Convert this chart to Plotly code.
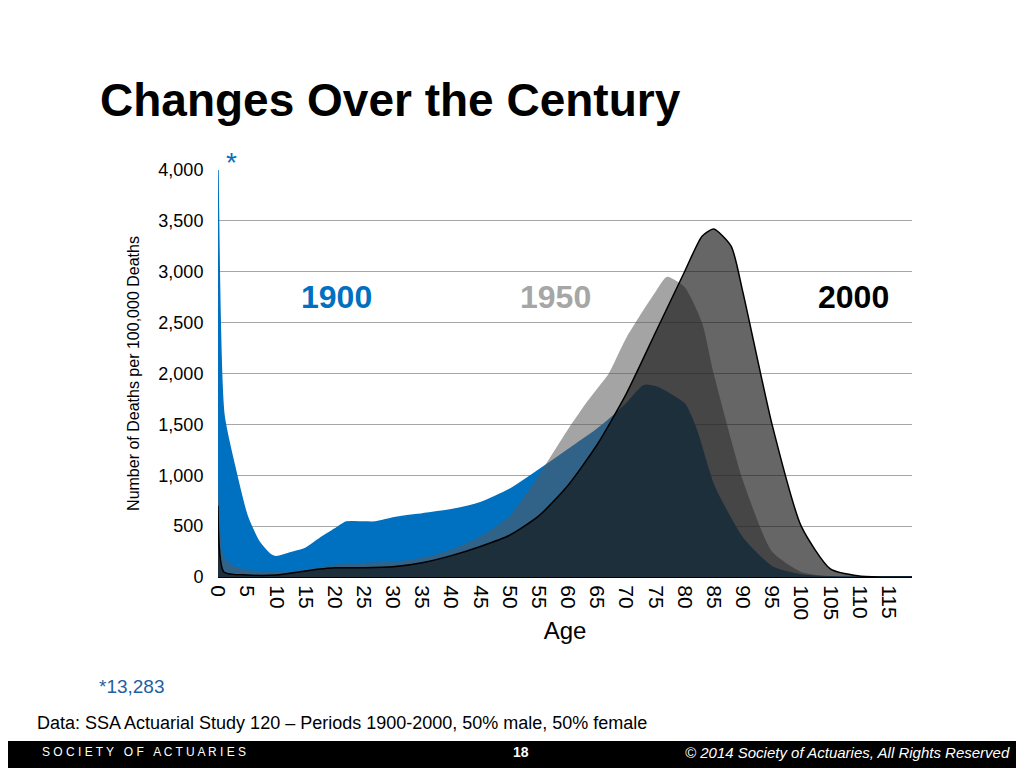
import plotly.graph_objects as go

ages_1900 = [0, 1, 3, 5, 7, 9, 10, 12, 15, 18, 20, 22, 25, 27, 30, 35, 40, 45, 50, 55, 60, 65, 70, 73, 75, 78, 80, 82, 85, 90, 95, 100, 105, 110, 119]
deaths_1900 = [4000, 1600, 1050, 600, 350, 220, 200, 230, 280, 400, 470, 540, 540, 540, 580, 620, 660, 730, 860, 1050, 1250, 1450, 1700, 1880, 1870, 1780, 1700, 1450, 900, 380, 100, 20, 2, 0, 0]

ages_1950 = [0, 1, 3, 5, 10, 15, 20, 25, 30, 35, 40, 45, 50, 55, 60, 63, 65, 67, 70, 75, 77, 80, 83, 85, 90, 95, 100, 105, 110, 119]
deaths_1950 = [3500, 200, 100, 70, 50, 70, 120, 140, 150, 190, 270, 400, 600, 1000, 1450, 1700, 1850, 2000, 2350, 2800, 2950, 2850, 2500, 2000, 950, 250, 50, 5, 0, 0]

ages_2000 = [0, 1, 5, 10, 15, 20, 25, 30, 35, 40, 45, 50, 55, 60, 65, 70, 75, 80, 83, 85, 88, 90, 95, 100, 105, 110, 115, 119]
deaths_2000 = [700, 50, 20, 20, 60, 90, 90, 100, 140, 210, 300, 410, 600, 900, 1300, 1800, 2400, 3000, 3350, 3420, 3250, 2800, 1500, 500, 80, 10, 0, 0]

FONT = "Liberation Sans, Arial, sans-serif"
W, H = 1024, 768
OFF = 8  # page offset seen in the screenshot
ML, MR, MT, MB = 218 - OFF, 112 + OFF, 170 - OFF, 191 + OFF
PW, PH = W - ML - MR, H - MT - MB

fig = go.Figure()
fig.add_trace(go.Scatter(x=ages_1900, y=deaths_1900, fill="tozeroy", mode="lines",
                         line=dict(color="#0070C0", width=1.5, shape="spline", smoothing=0.6),
                         fillcolor="#0070C0", name="1900"))
fig.add_trace(go.Scatter(x=ages_1950, y=deaths_1950, fill="tozeroy", mode="lines",
                         line=dict(color="rgba(0,0,0,0)", width=0, shape="spline", smoothing=0.6),
                         fillcolor="rgba(90,90,90,0.55)", name="1950"))
fig.add_trace(go.Scatter(x=ages_2000, y=deaths_2000, fill="tozeroy", mode="lines",
                         line=dict(color="black", width=1.5, shape="spline", smoothing=0.6),
                         fillcolor="rgba(20,20,20,0.65)", name="2000"))

fig.update_layout(
    width=W, height=H, showlegend=False,
    plot_bgcolor="white", paper_bgcolor="white",
    margin=dict(l=ML, r=MR, t=MT, b=MB),
    font=dict(family=FONT, color="black"),
    xaxis=dict(range=[0, 119], tickvals=list(range(0, 120, 5)), tickangle=90,
               tickfont=dict(size=21), showgrid=False, showline=True,
               linecolor="black", ticks="outside", ticklen=3, tickcolor="white", zeroline=False,
               title=dict(text="Age", font=dict(size=24), standoff=2)),
    yaxis=dict(range=[0, 4000], dtick=500, tickformat=",", tickfont=dict(size=18),
               showgrid=True, gridcolor="#a6a6a6", zeroline=False, showline=False,
               ticks="outside", ticklen=10, tickcolor="white",
               title=dict(text="Number of Deaths per 100,000 Deaths", font=dict(size=16), standoff=14)),
)

# (x px, y px from top in reference, text, font, xanchor)
ann = [
    (98, 100, "<b>Changes Over the Century</b>", dict(size=46), "left"),
    (336, 297, "<b>1900</b>", dict(size=32, color="#0070C0"), "center"),
    (555, 297, "<b>1950</b>", dict(size=32, color="#a6a6a6"), "center"),
    (853, 297, "<b>2000</b>", dict(size=32, color="black"), "center"),
    (231, 162, "*", dict(size=28, color="#0070C0"), "center"),
    (97, 686, "*13,283", dict(size=19, color="#1f5fa0"), "left"),
    (35, 723, "Data: SSA Actuarial Study 120 – Periods 1900-2000, 50% male, 50% female", dict(size=18), "left"),
    (40, 752, "S O C I E T Y   O F   A C T U A R I E S", dict(size=12, color="white"), "left"),
    (521, 752, "<b>18</b>", dict(size=14, color="white"), "center"),
    (1012, 752, "<i>© 2014 Society of Actuaries, All Rights Reserved</i>", dict(size=15, color="white"), "right"),
]
for px, py, text, font, xa in ann:
    fig.add_annotation(xref="paper", yref="paper", showarrow=False, text=text, font=font,
                       x=(px - OFF - ML) / PW, y=(H - MB - (py - OFF)) / PH,
                       xanchor=xa, yanchor="middle")

fig.add_shape(type="rect", xref="paper", yref="paper", x0=-0.5, x1=1.5,
              y0=(H - MB - (768 - OFF)) / PH, y1=(H - MB - (741 - OFF)) / PH,
              fillcolor="black", line=dict(width=0), layer="below")

fig.write_html("out.html")
